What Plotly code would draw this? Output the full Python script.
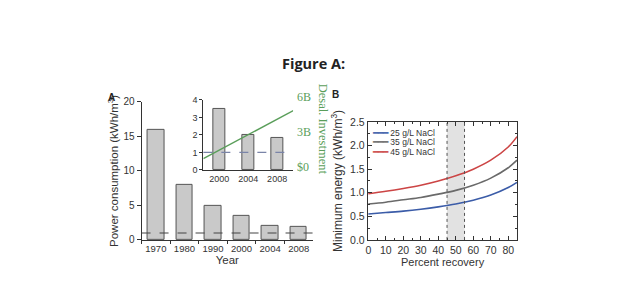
import plotly.graph_objects as go

# ---------------- data ----------------
years_main = ["1970", "1980", "1990", "2000", "2004", "2008"]
power_main = [16, 8, 5, 3.5, 2.0, 1.85]
thermo_limit = 1.0

years_inset = [2000, 2004, 2008]
power_inset = [3.5, 2.0, 1.85]
invest_years = [1997.8, 2010.3]
invest_billion = [0.72, 4.85]

recovery = [0, 10, 20, 30, 40, 50, 60, 70, 80, 85]
energy_25 = [0.55, 0.58, 0.61, 0.65, 0.70, 0.76, 0.84, 0.95, 1.11, 1.22]
energy_35 = [0.76, 0.80, 0.85, 0.90, 0.97, 1.05, 1.16, 1.31, 1.53, 1.69]
energy_45 = [0.98, 1.03, 1.09, 1.16, 1.25, 1.36, 1.50, 1.69, 1.97, 2.19]
series_names = ["25 g/L NaCl", "35 g/L NaCl", "45 g/L NaCl"]
series_colors = ["#3b5ca8", "#6a6a6a", "#cc4545"]
typical_recovery = [45, 55]

W, H = 620, 290
def px(x):
    return x / W
def py(y):
    return (H - y) / H

AX = "#333333"
BAR_FILL = "#c9c9c9"
BAR_LINE = "#555555"
GREEN = "#5a9e5a"
FONT = "Liberation Sans, Arial, sans-serif"

fig = go.Figure()

# Panel A main bars
fig.add_trace(go.Bar(x=years_main, y=power_main, width=0.58,
                     marker=dict(color=BAR_FILL, line=dict(color=BAR_LINE, width=1)),
                     xaxis="x", yaxis="y", showlegend=False))

# Inset bars
fig.add_trace(go.Bar(x=years_inset, y=power_inset, width=1.7,
                     marker=dict(color=BAR_FILL, line=dict(color=BAR_LINE, width=1)),
                     xaxis="x3", yaxis="y3", showlegend=False))
fig.add_trace(go.Scatter(x=invest_years, y=invest_billion, mode="lines",
                         line=dict(color=GREEN, width=1.4),
                         xaxis="x3", yaxis="y4", showlegend=False, cliponaxis=False))

# Panel B curves
for name, col, vals in zip(series_names, series_colors, [energy_25, energy_35, energy_45]):
    fig.add_trace(go.Scatter(x=recovery, y=vals, mode="lines", name=name,
                             line=dict(color=col, width=1.6, shape="spline"),
                             xaxis="x2", yaxis="y2", showlegend=False))

# domains
xA = [px(140), px(312)]
yA = [py(244), py(100)]
xI = [px(202), px(292)]
yI = [py(171), py(98)]
yI2 = [py(171), py(93)]
xB = [px(367), px(517)]
yB = [py(244), py(121)]

tickfont = dict(family=FONT, size=10, color="#333")

fig.update_layout(
    width=W, height=H,
    margin=dict(l=0, r=0, t=0, b=0),
    paper_bgcolor="white", plot_bgcolor="rgba(0,0,0,0)",
    font=dict(family=FONT, color="#333"),
    bargap=0,
    xaxis=dict(domain=xA, anchor="y", type="category", range=[-0.5, 5.5],
               showline=True, linecolor=AX, linewidth=1, ticks="outside", ticklen=3,
               tickson="boundaries", tickcolor=AX, tickangle=0,
               tickfont=dict(family=FONT, size=9.5, color="#333"),
               title=dict(text="Year", font=dict(family=FONT, size=11.5, color="#333"), standoff=2),
               showgrid=False, zeroline=False),
    yaxis=dict(domain=yA, anchor="x", range=[0, 20], tickvals=[0, 5, 10, 15, 20],
               showline=True, linecolor=AX, linewidth=1, ticks="outside", ticklen=4,
               tickcolor=AX, tickfont=tickfont, showgrid=False, zeroline=False,
               title=dict(text="Power consumption (kWh/m<sup>3</sup>)",
                          font=dict(family=FONT, size=11.5, color="#333"), standoff=2)),
    xaxis3=dict(domain=xI, anchor="y3", range=[1997.8, 2010.2], tickvals=years_inset,
                showline=True, linecolor=AX, linewidth=1, ticks="", tickcolor=AX, tickangle=0,
                tickfont=dict(family=FONT, size=9, color="#333"), showgrid=False, zeroline=False),
    yaxis3=dict(domain=yI, anchor="x3", range=[0, 4], tickvals=[0, 1, 2, 3, 4],
                showline=True, linecolor=AX, linewidth=1, ticks="outside", ticklen=3,
                tickcolor=AX, tickfont=dict(family=FONT, size=9, color="#333"),
                showgrid=False, zeroline=False),
    yaxis4=dict(domain=yI2, anchor="x3", side="right", range=[-0.25, 6.16],
                tickvals=[0, 3, 6], ticktext=["$0", "3B", "6B"], ticks="", showline=False,
                ticklabelstandoff=3,
                tickfont=dict(family="Liberation Serif, Times New Roman, serif", size=12, color=GREEN),
                showgrid=False, zeroline=False),
    xaxis2=dict(domain=xB, anchor="y2", range=[-0.3, 85.2], tickvals=list(range(0, 90, 10)),
                showline=True, mirror="ticks", linecolor=AX, linewidth=1, ticks="inside",
                ticklen=4, tickcolor=AX, tickangle=0, tickfont=dict(family=FONT, size=10.5, color="#333"),
                minor=dict(dtick=5, ticks="inside", ticklen=2, tickcolor=AX),
                showgrid=False, zeroline=False,
                title=dict(text="Percent recovery", font=dict(family=FONT, size=11, color="#333"), standoff=3)),
    yaxis2=dict(domain=yB, anchor="x2", range=[0, 2.5], tickvals=[0, 0.5, 1, 1.5, 2, 2.5],
                tickformat=".1f", showline=True, mirror="ticks", linecolor=AX, linewidth=1,
                ticks="inside", ticklen=4, tickcolor=AX,
                minor=dict(dtick=0.25, ticks="inside", ticklen=2, tickcolor=AX),
                tickfont=dict(family=FONT, size=10.5, color="#333"), showgrid=False, zeroline=False,
                title=dict(text="Minimum energy (kWh/m<sup>3</sup>)",
                           font=dict(family=FONT, size=12, color="#333"), standoff=4)),
)

# thermodynamic-limit dashed lines (main panel and inset)
fig.add_shape(type="line", xref="x domain", yref="y", x0=0, x1=1, y0=thermo_limit, y1=thermo_limit,
              line=dict(color="#444444", width=1.2, dash="dash"))
fig.add_shape(type="line", xref="x3 domain", yref="y3", x0=0, x1=1, y0=thermo_limit, y1=thermo_limit,
              line=dict(color="#7a84a8", width=1.2, dash="dash"))

# shaded typical recovery band in panel B
fig.add_shape(type="rect", xref="x2", yref="y2 domain", x0=typical_recovery[0], x1=typical_recovery[1],
              y0=0, y1=1, fillcolor="#e2e2e2", line=dict(width=0), layer="below")
for xv in typical_recovery:
    fig.add_shape(type="line", xref="x2", yref="y2 domain", x0=xv, x1=xv, y0=0, y1=1,
                  line=dict(color="#555", width=1, dash="dot"))

ann = []
ann.append(dict(text="<b>Figure A:</b>", x=px(313), y=py(48), xref="paper", yref="paper",
                showarrow=False, font=dict(family="Open Sans, sans-serif", size=14.5, color="#222")))
ann.append(dict(text="<b>A</b>", x=px(104), y=py(88), xref="paper", yref="paper",
                showarrow=False, font=dict(family=FONT, size=10, color="#222")))
ann.append(dict(text="<b>B</b>", x=px(335), y=py(85), xref="paper", yref="paper",
                showarrow=False, font=dict(family=FONT, size=10, color="#222")))
ann.append(dict(text="Desal. Investment", x=px(322), y=py(129), xref="paper", yref="paper",
                textangle=90, showarrow=False,
                font=dict(family="Liberation Serif, Times New Roman, serif", size=12.5, color=GREEN)))
# legend for panel B
for i, (name, col) in enumerate(zip(series_names, series_colors)):
    ann.append(dict(text=f"<span style='color:{col}'>━━━</span> {name}",
                    x=px(369), y=py(132 + 10 * i), xref="paper", yref="paper",
                    xanchor="left", showarrow=False,
                    font=dict(family=FONT, size=8.5, color="#333")))
fig.update_layout(annotations=ann)

fig.write_html("out.html")
